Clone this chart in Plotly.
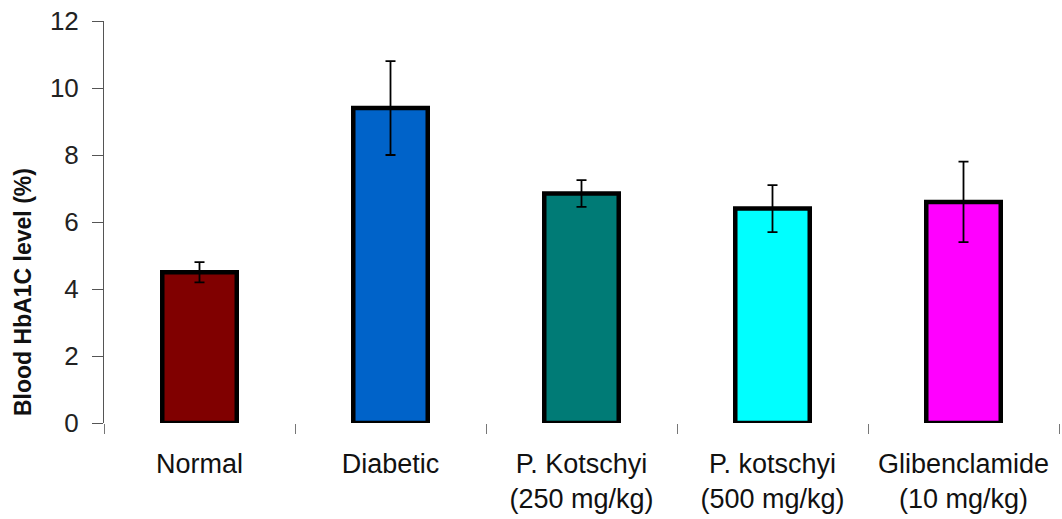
import plotly.graph_objects as go

categories = ["Normal", "Diabetic", "P. Kotschyi<br>(250 mg/kg)", "P. kotschyi<br>(500 mg/kg)", "Glibenclamide<br>(10 mg/kg)"]
values = [4.5, 9.4, 6.85, 6.4, 6.6]
errors = [0.3, 1.4, 0.4, 0.7, 1.2]
colors = ["#800000", "#0063C9", "#007B76", "#00FFFF", "#FF00FF"]
y_ticks = [0, 2, 4, 6, 8, 10, 12]

fig = go.Figure()
fig.add_trace(go.Bar(
    x=categories, y=values,
    marker=dict(color=colors, line=dict(color="black", width=4.5)),
    width=0.39,
    error_y=dict(type="data", array=errors, visible=True, color="black", thickness=1.8, width=5),
    showlegend=False,
))

fig.update_layout(
    width=1062, height=519,
    margin=dict(l=104, r=3, t=21, b=96),
    paper_bgcolor="white", plot_bgcolor="white",
    font=dict(family="Liberation Sans, Arial, sans-serif", color="#111"),
    xaxis=dict(
        automargin=False,
        showline=False, showgrid=False, zeroline=False,
        ticks="outside", tickson="boundaries", ticklen=10, tickcolor="#777", tickwidth=1,
        tickfont=dict(size=27, color="#111"),
        ticklabelstandoff=22,
    ),
    yaxis=dict(
        automargin=False,
        range=[0, 12], tickvals=y_ticks,
        showline=True, linecolor="#555", linewidth=1,
        showgrid=False, zeroline=False,
        ticks="outside", ticklen=11, tickcolor="#555", tickwidth=1,
        tickfont=dict(size=26, color="#222"),
        ticklabelstandoff=8,
    ),
    annotations=[dict(
        text="<b>Blood HbA1C level (%)</b>", textangle=-90,
        xref="paper", yref="paper", x=(23 - 104) / 955, y=(423 - 292) / 402,
        xanchor="center", yanchor="middle", showarrow=False,
        font=dict(size=23, color="#111"),
    )],
)

fig.write_html(
    "out.html",
    config={"displayModeBar": False},
    post_script="document.body.style.margin='0';document.body.style.overflow='hidden';",
)
